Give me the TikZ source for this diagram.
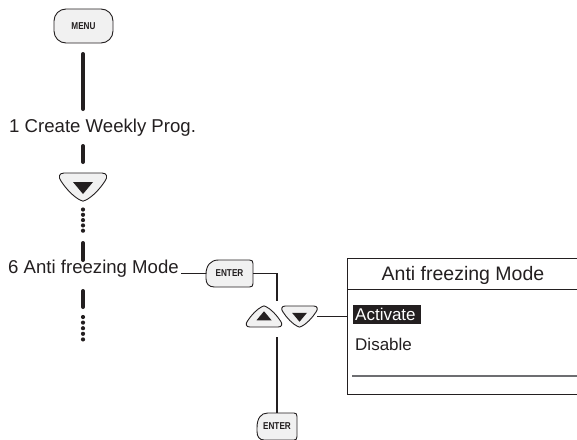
\documentclass[tikz,border=0pt]{standalone}
\usepackage{fontspec}
\setmainfont{Liberation Sans}
\newfontfamily\keyfont{Liberation Sans}[FakeStretch=0.82]
\usetikzlibrary{positioning,calc}
\definecolor{btngray}{HTML}{F1F1F1}
\definecolor{inkgray}{HTML}{231F20}
\definecolor{rulegray}{HTML}{6D6E71}

\begin{document}
\begin{tikzpicture}[x=1pt,y=-1pt,
    btn/.style={draw=inkgray, fill=btngray, line width=0.9pt},
    keylabel/.style={font=\keyfont\bfseries\fontsize{10}{11}\selectfont, text=inkgray, inner sep=0pt},
    stem/.style={draw=inkgray, line width=4pt, line cap=round},
    wire/.style={draw=inkgray, line width=1.1pt},
    menutext/.style={font=\fontsize{18.6}{20}\selectfont, text=inkgray, inner sep=0pt, anchor=base west},
    paneltext/.style={font=\fontsize{17}{19}\selectfont, text=inkgray, inner sep=0pt, anchor=base west},
    keyspot/.style={inner sep=0pt, minimum width=35pt, minimum height=21pt},
    downkey/.pic={
      \path[btn] (-19,-14) -- (19,-14) .. controls (24,-14) and (25,-10) .. (22,-6)
        .. controls (17,2) and (9,10) .. (3,13) .. controls (1,14.5) and (-1,14.5) .. (-3,13)
        .. controls (-9,10) and (-17,2) .. (-22,-6) .. controls (-25,-10) and (-24,-14) .. (-19,-14) -- cycle;
      \fill[inkgray] (-10,-5) -- (10,-5) -- (0,7) -- cycle;
    },
    enterkey/.pic={
      \path[btn] (-11,-13.5) -- (20,-13.5) .. controls (22.5,-13.5) and (23.5,-12.5) .. (23.5,-10)
        -- (23.5,10) .. controls (23.5,12.5) and (22.5,13.5) .. (20,13.5)
        -- (-15,13.5) .. controls (-21,13.5) and (-23.5,10) .. (-23.5,5)
        -- (-23.5,1) .. controls (-23.5,-8) and (-19,-13.5) .. (-11,-13.5) -- cycle;
    }
  ]
\useasboundingbox (0,0) rectangle (577,439);
\clip (0,0) rectangle (577,439);

\node[btn, keylabel, rounded corners=12pt, minimum width=59pt, minimum height=34pt] (menu) at (83.5,26) {MENU};
\node[menutext] (prog1) at (9,132.7) {1 Create Weekly Prog.};
\node[menutext] (prog6) at (8,273) {6 Anti freezing Mode};

\coordinate (s1) at (83,54);  \coordinate (s2) at (83,109);
\coordinate (s3) at (83,146); \coordinate (s4) at (83,162);
\coordinate (s5) at (83,243); \coordinate (s6) at (83,260);
\coordinate (s7) at (83,291); \coordinate (s8) at (83,307);
\draw[stem] (s1) -- (s2); \draw[stem] (s3) -- (s4);
\draw[stem] (s5) -- (s6); \draw[stem] (s7) -- (s8);

\node[keyspot, minimum width=46pt, minimum height=28pt] (dkey) at (83,187) {};
\pic at (dkey) {downkey};
\foreach \k in {0,...,4} {
  \fill[inkgray] (83,209.5+5.3*\k) circle (2.1);
  \fill[inkgray] (83,317+5.6*\k) circle (2.1);
}

\coordinate (e1) at (229.5,273.5);
\pic at (e1) {enterkey};
\node[keylabel, minimum width=47pt, minimum height=27pt] (enter1) at (e1) {ENTER};
\draw[wire, shorten >=2pt] (enter1.west) -- (enter1.west -| prog6.east);

\node[keyspot] (upk) at (264,316.5) {};
\node[keyspot] (dnk) at (299.5,316.5) {};
\pic[scale=0.75, yscale=-1] at (upk) {downkey};
\pic[scale=0.75] at (dnk) {downkey};

\coordinate (j1) at (277,301);
\coordinate (j2) at (277,337);
\draw[wire] (enter1.east) -| (j1);

\coordinate (e2) at (277,426.5);
\pic[xscale=0.85] at (e2) {enterkey};
\node[keylabel, minimum width=40pt, minimum height=27pt] (enter2) at (e2) {ENTER};
\draw[wire] (j2) -- (enter2.north);

\node[draw=inkgray, line width=0.9pt, minimum width=260pt, minimum height=136pt, anchor=north west] (panel) at (347,258) {};
\draw[wire] (dnk.east) -- (dnk.east -| panel.west);
\coordinate (hd) at (0,289);
\coordinate (ft) at (0,376);
\draw[draw=inkgray, line width=0.9pt] (panel.west |- hd) -- (panel.east |- hd);
\draw[draw=rulegray, line width=1.3pt] ([xshift=5pt]panel.west |- ft) -- (panel.east |- ft);
\node[paneltext, font=\fontsize{19.5}{21}\selectfont, anchor=base] (title) at (463,280.7) {Anti freezing Mode};
\node[paneltext, fill=inkgray, text=white, inner xsep=2pt, text height=15pt, text depth=4pt] (act) at (353,320) {Activate\,};
\node[paneltext] (dis) at (355,350.7) {Disable};
\end{tikzpicture}
\end{document}
